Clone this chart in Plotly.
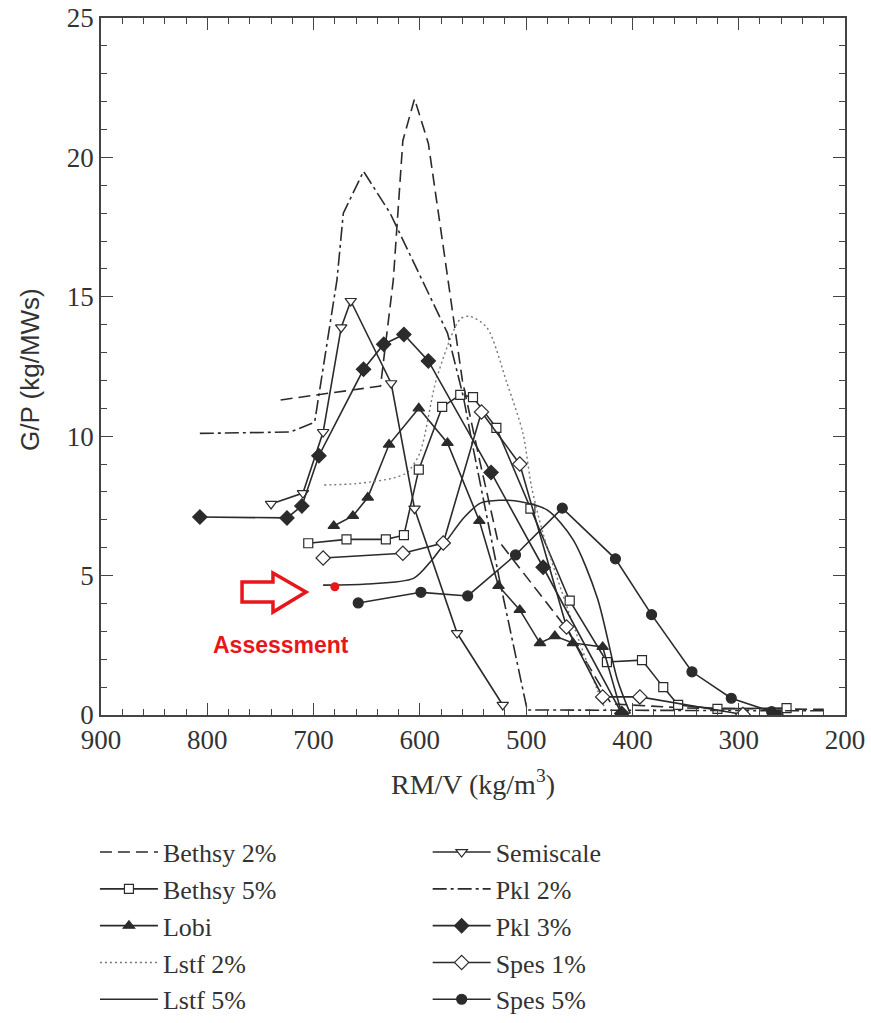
import plotly.graph_objects as go

# ---------------- data ----------------
bethsy2_x = [731, 637, 625, 616, 605, 592, 578, 560, 543, 527, 462, 420, 350, 220]
bethsy2_y = [11.3, 11.8, 15.6, 20.6, 22.1, 20.5, 16.8, 12.0, 9.0, 6.3, 3.1, 0.4, 0.25, 0.2]

bethsy5_x = [705, 669, 632, 615, 601, 579, 562, 550, 528, 496, 459, 424, 391, 371, 357, 320, 255]
bethsy5_y = [6.16, 6.3, 6.3, 6.45, 8.8, 11.05, 11.48, 11.4, 10.3, 7.4, 4.1, 1.9, 1.97, 1.0, 0.36, 0.22, 0.25]

lobi_x = [681, 663, 649, 629, 601, 574, 544, 526, 506, 487, 473, 456, 428, 410]
lobi_y = [6.78, 7.14, 7.8, 9.7, 11.0, 9.76, 6.96, 4.63, 3.77, 2.58, 2.83, 2.58, 2.44, 0.05]

lstf2_x = [690, 660, 625, 612, 600, 584, 562, 553, 537, 518, 503, 495, 484, 460, 433, 424]
lstf2_y = [8.25, 8.3, 8.5, 8.7, 9.4, 12.1, 14.2, 14.3, 13.9, 11.9, 10.1, 8.2, 6.5, 3.7, 0.9, 0.07]

lstf5_x = [691, 650, 606, 590, 574, 558, 543, 525, 505, 480, 456, 433, 414, 402]
lstf5_y = [4.66, 4.7, 4.9, 5.5, 6.3, 7.1, 7.6, 7.7, 7.65, 7.35, 6.3, 4.2, 1.25, 0.05]

semiscale_x = [740, 710, 691, 674, 665, 627, 605, 565, 522]
semiscale_y = [7.57, 7.96, 10.15, 13.9, 14.85, 11.9, 7.4, 2.94, 0.36]

pkl2_x = [807, 722, 699, 678, 672, 653, 628, 574, 559, 550, 525, 499, 220]
pkl2_y = [10.1, 10.15, 10.5, 15.6, 18.0, 19.5, 18.0, 13.7, 11.4, 9.6, 4.84, 0.18, 0.15]

pkl3_x = [807, 725, 711, 695, 653, 634, 615, 592, 533, 484, 410]
pkl3_y = [7.1, 7.07, 7.5, 9.3, 12.4, 13.3, 13.65, 12.7, 8.7, 5.3, 0.05]

spes1_x = [691, 616, 578, 542, 506, 462, 428, 393, 296]
spes1_y = [5.63, 5.8, 6.17, 10.87, 9.0, 3.16, 0.65, 0.65, 0.02]

spes5_x = [658, 599, 555, 510, 466, 416, 382, 344, 307, 269, 263]
spes5_y = [4.02, 4.4, 4.27, 5.74, 7.42, 5.6, 3.6, 1.55, 0.6, 0.12, 0.0]

assess_x = [680]
assess_y = [4.6]

x_ticks = [900, 800, 700, 600, 500, 400, 300, 200]
y_ticks = [0, 5, 10, 15, 20, 25]

# ---------------- styling ----------------
INK = "#2b2b2b"
SERIF = "Liberation Serif, Times New Roman, serif"
SANS = "Liberation Sans, Arial, sans-serif"
LW = 1.6

fig = go.Figure()


def add(name, x, y, legend, dash="solid", symbol=None, fill=INK, color=INK,
        shape="linear", size=10, width=LW):
    mode = "lines+markers" if symbol else "lines"
    kw = dict(x=x, y=y, name=name, mode=mode, legend=legend, legendgroup=name,
              line=dict(color=color, width=width, dash=dash, shape=shape,
                        smoothing=0.8))
    if symbol:
        kw["marker"] = dict(symbol=symbol, size=size, color=fill,
                            line=dict(color=INK, width=1.2))
    fig.add_trace(go.Scatter(**kw))


add("Bethsy 2%", bethsy2_x, bethsy2_y, "legend", dash="12px,6px")
add("Bethsy 5%", bethsy5_x, bethsy5_y, "legend", symbol="square", fill="white", size=9)
add("Lobi", lobi_x, lobi_y, "legend", symbol="triangle-up", size=10)
add("Lstf 2%", lstf2_x, lstf2_y, "legend", dash="2px,3px", color="#777777",
    shape="spline", width=1.4)
add("Lstf 5%", lstf5_x, lstf5_y, "legend", shape="spline")
add("Semiscale", semiscale_x, semiscale_y, "legend2", symbol="triangle-down",
    fill="white", size=10)
add("Pkl 2%", pkl2_x, pkl2_y, "legend2", dash="14px,4px,3px,4px")
add("Pkl 3%", pkl3_x, pkl3_y, "legend2", symbol="diamond", size=11)
add("Spes 1%", spes1_x, spes1_y, "legend2", symbol="diamond", fill="white", size=11)
add("Spes 5%", spes5_x, spes5_y, "legend2", symbol="circle", size=10)

# Assessment point
fig.add_trace(go.Scatter(x=assess_x, y=assess_y, mode="markers", showlegend=False,
                         marker=dict(color="#e8161b", size=9)))

# hollow red block arrow pointing to the assessment point
arrow_path = ("M 767.3,4.77 L 738.2,4.77 L 738.2,5.09 L 707.1,4.41 "
              "L 738.2,3.69 L 738.2,4.05 L 767.3,4.05 Z")
fig.add_shape(type="path", path=arrow_path, xref="x", yref="y",
              line=dict(color="#e8161b", width=3.5), fillcolor="rgba(0,0,0,0)")

fig.add_annotation(x=731, y=2.5, xref="x", yref="y", text="<b>Assessment</b>",
                   showarrow=False, font=dict(family=SANS, size=23, color="#e8161b"))

# y-axis title as a rotated annotation (keeps its place in the fixed margin)
fig.add_annotation(x=-0.0954, y=0.495, xref="paper", yref="paper",
                   text="G/P (kg/MWs)", textangle=-90, showarrow=False,
                   xanchor="center", yanchor="middle",
                   font=dict(family=SANS, size=26, color="#333333"))

axis_common = dict(
    showline=True, linecolor="#444444", linewidth=1.5, mirror="ticks",
    ticks="inside", ticklen=12, tickwidth=1.3, tickcolor="#444444",
    showgrid=False, zeroline=False,
    tickfont=dict(family=SERIF, size=27, color="#333333"),
)

fig.update_xaxes(
    range=[900, 200], tickvals=x_ticks, ticktext=[str(v) for v in x_ticks],
    minor=dict(dtick=20, ticks="inside", ticklen=6, tickcolor="#444444", tickwidth=1.2),
    title=dict(text="RM/V (kg/m<sup>3</sup>)", font=dict(family=SERIF, size=28, color="#333333"),
               standoff=20),
    **axis_common,
)
fig.update_yaxes(
    range=[0, 25], tickvals=y_ticks, ticktext=[str(v) for v in y_ticks],
    minor=dict(dtick=1, ticks="inside", ticklen=6, tickcolor="#444444", tickwidth=1.2),
    **axis_common,
)

legend_common = dict(
    orientation="v", bgcolor="rgba(0,0,0,0)", borderwidth=0,
    font=dict(family=SERIF, size=26, color="#333333"),
    tracegroupgap=0, itemwidth=58, xanchor="left", yanchor="top",
    yref="container", xref="container",
)

fig.update_layout(
    width=871, height=1023,
    margin=dict(l=101, r=26, t=18, b=308, autoexpand=False),
    paper_bgcolor="white", plot_bgcolor="white",
    legend=dict(x=0.109, y=0.19, **legend_common),
    legend2=dict(x=0.491, y=0.19, **legend_common),
)

fig.write_html("out.html")
